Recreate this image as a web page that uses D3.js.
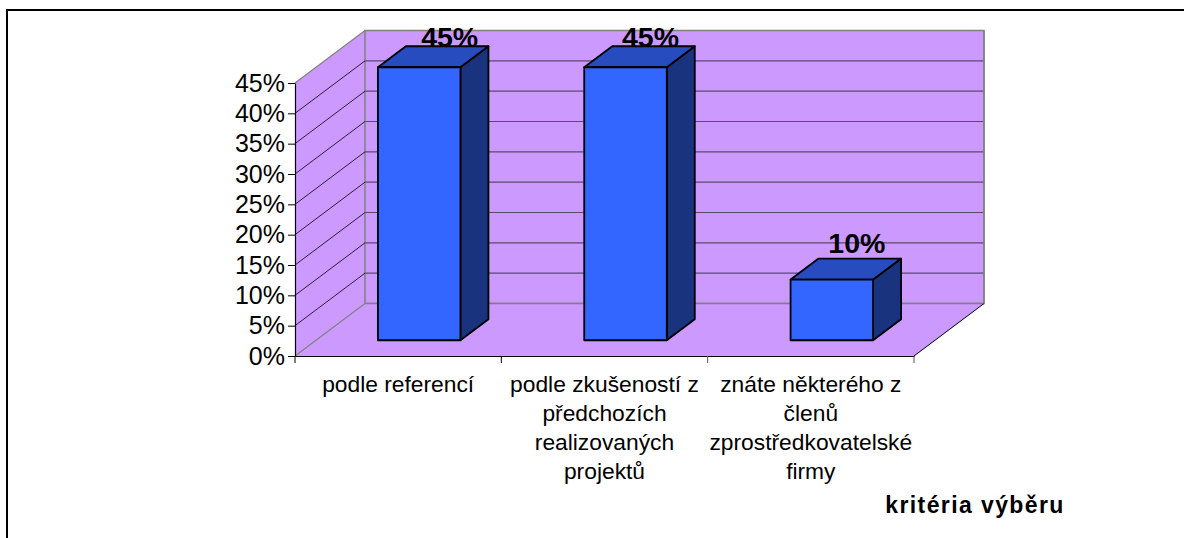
<!DOCTYPE html>
<html>
<head>
<meta charset="utf-8">
<script src="https://cdn.jsdelivr.net/npm/d3@7"></script>
<style>
  html, body { margin: 0; padding: 0; background: #fff; }
  svg { display: block; }
  text { font-family: "Liberation Sans", Arial, sans-serif; fill: #000; }
</style>
</head>
<body>
<div id="chart"></div>
<script>
var categories = ["podle referencí", "podle zkušeností z předchozích realizovaných projektů", "znáte některého z členů zprostředkovatelské firmy"];
var categoryLines = [
  ["podle referencí"],
  ["podle zkušeností z", "předchozích", "realizovaných", "projektů"],
  ["znáte některého z", "členů", "zprostředkovatelské", "firmy"]
];
var values = [45, 45, 10];
var ticks = [0, 5, 10, 15, 20, 25, 30, 35, 40, 45];
var axisTitle = "kritéria výběru";

var width = 1184;
var height = 538;

var svg = d3.select("#chart")
  .append("svg")
  .attr("width", width)
  .attr("height", height);

// page frame
svg.append("rect")
  .attr("x", 7).attr("y", 10)
  .attr("width", 1190).attr("height", 540)
  .attr("fill", "#fff")
  .attr("stroke", "#000")
  .attr("stroke-width", 2);

var x = d3.scaleBand().domain(categories).range([295, 914]);
var y = d3.scaleLinear().domain([0, 45]).range([356, 83]);

// depth of the 3d box, back wall is shifted by this
var dx = 70;
var dy = -52.5;
var wall = "#cc99ff";
var grey = "#808080";

function pts(a) {
  return a.map(function(p) { return p.join(","); }).join(" ");
}

var x0 = x.range()[0], x1 = x.range()[1];
var y0 = y(0), yTop = y(45);

// side wall
svg.append("polygon")
  .attr("points", pts([[x0, y0], [x0, yTop], [x0 + dx, yTop + dy], [x0 + dx, y0 + dy]]))
  .attr("fill", wall);
// back wall
svg.append("polygon")
  .attr("points", pts([[x0 + dx, yTop + dy], [x1 + dx, yTop + dy], [x1 + dx, y0 + dy], [x0 + dx, y0 + dy]]))
  .attr("fill", wall)
  .attr("stroke", grey)
  .attr("stroke-width", 1.5);
// floor
svg.append("polygon")
  .attr("points", pts([[x0, y0], [x0 + dx, y0 + dy], [x1 + dx, y0 + dy], [x1, y0]]))
  .attr("fill", wall);

// grey edges of the walls
svg.append("path")
  .attr("d", d3.line()([[x0, yTop], [x0 + dx, yTop + dy]]))
  .attr("stroke", grey).attr("stroke-width", 1.2).attr("fill", "none");
svg.append("path")
  .attr("d", d3.line()([[x0, y0], [x0 + dx, y0 + dy]]))
  .attr("stroke", grey).attr("stroke-width", 1.2).attr("fill", "none");
svg.append("line")
  .attr("x1", x0 + dx).attr("x2", x1 + dx)
  .attr("y1", y0 + dy).attr("y2", y0 + dy)
  .attr("stroke", grey).attr("stroke-width", 1.5);
svg.append("path")
  .attr("d", d3.line()([[x1, y0], [x1 + dx, y0 + dy]]))
  .attr("stroke", "#000").attr("stroke-width", 1).attr("fill", "none");

// gridlines, skipping 0 and the top edge
var grid = svg.append("g");
ticks.filter(function(t) { return t > 0 && t < 45; }).forEach(function(t) {
  grid.append("path")
    .attr("d", d3.line()([[x0, y(t)], [x0 + dx, y(t) + dy]]))
    .attr("stroke", "#000").attr("stroke-width", 0.8).attr("fill", "none");
  grid.append("line")
    .attr("x1", x0 + dx).attr("x2", x1 + dx)
    .attr("y1", y(t) + dy).attr("y2", y(t) + dy)
    .attr("stroke", "#5a4a70").attr("stroke-width", 1.2);
});
// right grey edge again over the gridlines
svg.append("line")
  .attr("x1", x1 + dx).attr("x2", x1 + dx)
  .attr("y1", yTop + dy).attr("y2", y0 + dy)
  .attr("stroke", grey).attr("stroke-width", 1.5);

// axes
var yAxis = d3.axisLeft(y)
  .tickValues(ticks)
  .tickSizeOuter(0)
  .tickSizeInner(7)
  .tickPadding(3)
  .tickFormat(function(d) { return d + "%"; });
var yG = svg.append("g").attr("transform", "translate(" + x0 + ",0)").call(yAxis);
yG.selectAll("text").style("font-size", "25px").style("font-family", '"Liberation Sans", Arial, sans-serif').attr("fill", "#000");
yG.selectAll("line").attr("stroke", "#000").attr("stroke-width", 1);
yG.select(".domain").attr("stroke", "#000").attr("stroke-width", 1.2);

var xAxis = d3.axisBottom(x).tickValues([]).tickSize(0);
var xG = svg.append("g").attr("transform", "translate(0," + y0 + ")").call(xAxis);
xG.select(".domain").attr("stroke", "#000").attr("stroke-width", 1.2);

// ticks between the categories
var xEdges = categories.map(function(c) { return x(c); }).concat([x1]);
svg.selectAll(".xtick").data(xEdges).enter().append("line")
  .attr("class", "xtick")
  .attr("x1", function(d) { return d; }).attr("x2", function(d) { return d; })
  .attr("y1", y0).attr("y2", y0 + 7)
  .attr("stroke", function(d, i) { return i < 2 ? "#000" : "#555"; });

// bars
var barW = x.bandwidth() * 0.4;
var offX = dx * 0.3, offY = dy * 0.3;
var depX = dx * 0.4, depY = dy * 0.4;

var bars = svg.selectAll(".bar").data(values).enter().append("g").attr("class", "bar");
bars.each(function(d, i) {
  var g = d3.select(this);
  var l = x(categories[i]) + (x.bandwidth() - barW) / 2 + offX;
  var r = l + barW;
  var b = y(0) + offY;
  var t = y(d) + offY;
  g.append("polygon")
    .attr("points", pts([[r, b], [r, t], [r + depX, t + depY], [r + depX, b + depY]]))
    .attr("fill", "#19337f");
  g.append("polygon")
    .attr("points", pts([[l, t], [l + depX, t + depY], [r + depX, t + depY], [r, t]]))
    .attr("fill", "#264cbf");
  g.append("rect")
    .attr("x", l).attr("y", t)
    .attr("width", barW).attr("height", b - t)
    .attr("fill", "#3366ff");
  g.selectAll("polygon, rect")
    .attr("stroke", "#000").attr("stroke-width", 1.8).attr("stroke-linejoin", "round");
  // value label sits behind the top edge, first bar drifts a bit right in the picture
  g.insert("text", ":first-child")
    .attr("x", l + barW / 2 + (i === 0 ? 30.5 : 25))
    .attr("y", t - (d === 45 ? 20.5 : 27))
    .attr("text-anchor", "middle")
    .style("font-size", "28.5px")
    .style("font-weight", "bold")
    .text(d + "%");
});

// category labels
categories.forEach(function(c, i) {
  var t = svg.append("text")
    .attr("x", x(c) + x.bandwidth() / 2)
    .attr("text-anchor", "middle")
    .style("font-size", "22.8px");
  categoryLines[i].forEach(function(line, j) {
    t.append("tspan")
      .attr("x", x(c) + x.bandwidth() / 2)
      .attr("y", 392 + j * 29)
      .text(line);
  });
});

svg.append("text")
  .attr("x", 975).attr("y", 513)
  .attr("text-anchor", "middle")
  .style("font-size", "23px")
  .style("font-weight", "bold")
  .style("letter-spacing", "1.4px")
  .text(axisTitle);
</script>
</body>
</html>
